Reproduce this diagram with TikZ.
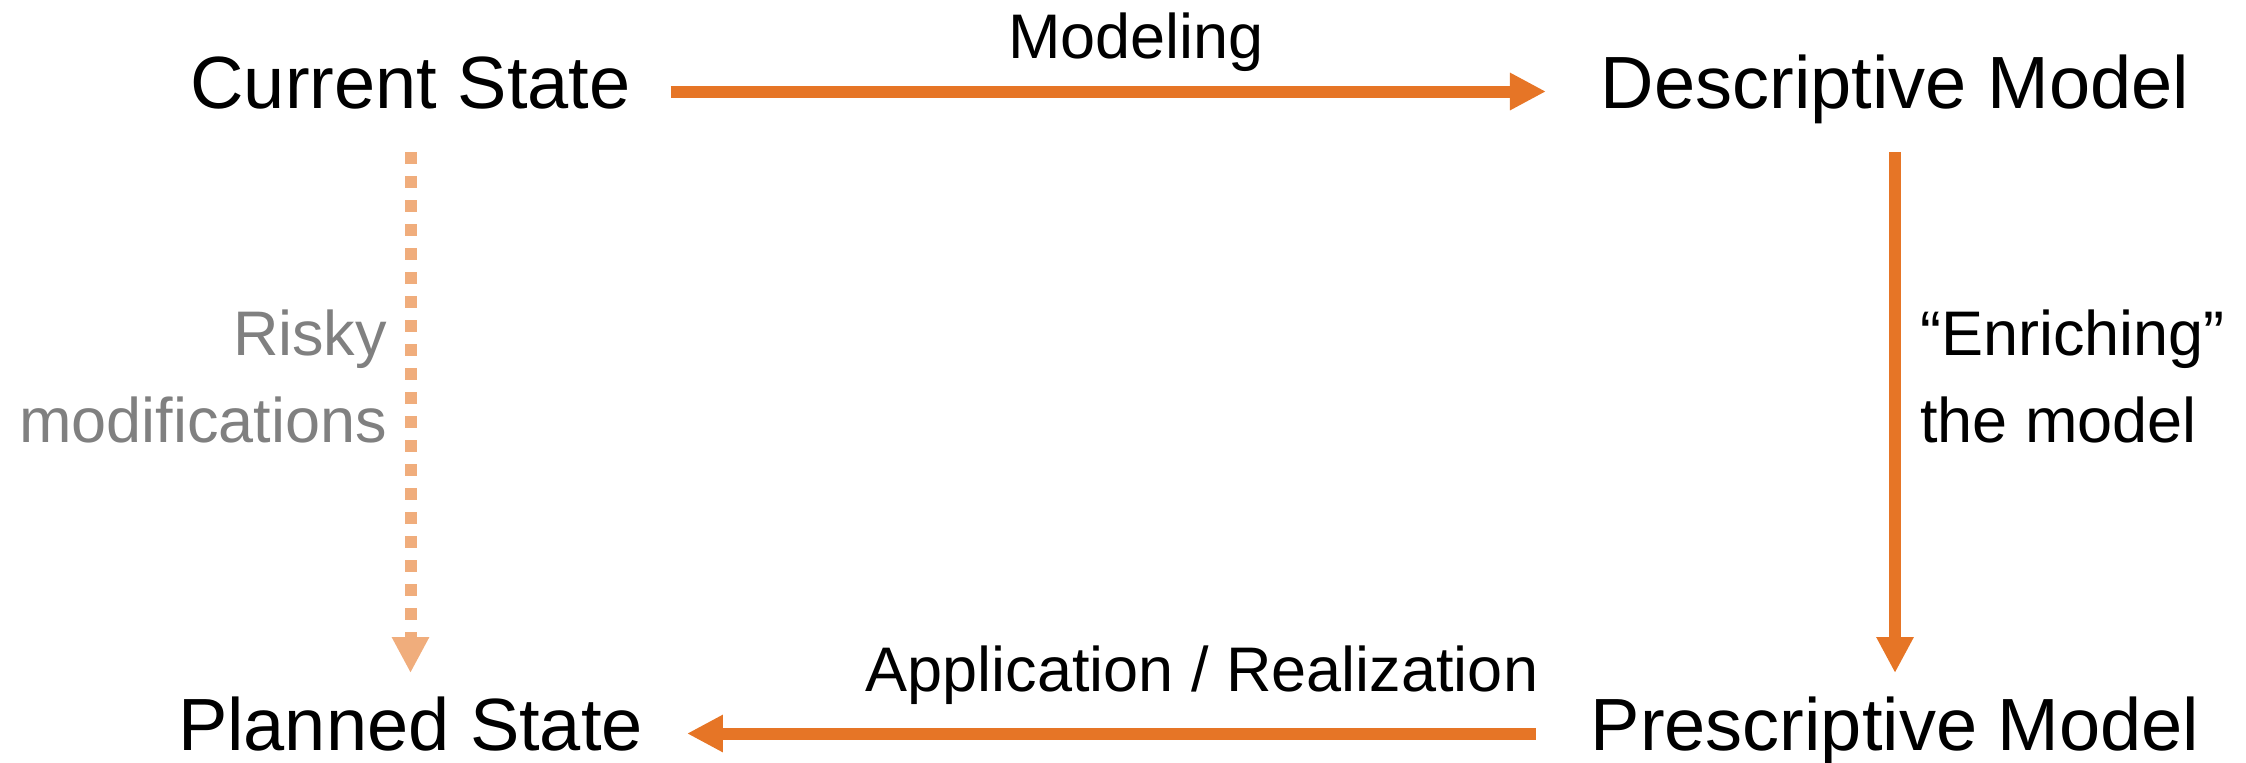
\documentclass[tikz,border=0pt]{standalone}
\usepackage{fontspec}
\setmainfont{Liberation Sans}
\usetikzlibrary{arrows.meta}
\definecolor{mainorange}{RGB}{230,117,38}
\definecolor{lightorange}{RGB}{240,173,124}
\definecolor{labelgray}{RGB}{128,128,128}
\begin{document}
\begin{tikzpicture}[x=0.5pt,y=-0.5pt,
  statebox/.style={inner sep=0pt, outer sep=0pt, text height=26.5pt, text depth=10pt, font=\fontsize{37}{44}\selectfont, anchor=base},
  edgelabel/.style={inner sep=0pt, outer sep=0pt, font=\fontsize{31.5}{43.5}\selectfont},
  flow/.style={draw=mainorange, line width=6pt, -{Triangle[length=18pt,width=17.5pt]}},
  riskyflow/.style={draw=lightorange, line width=6pt, dash pattern=on 6pt off 6pt, -{Triangle[length=18pt,width=17.5pt]}}]
\path[use as bounding box] (0,0) rectangle (2246,762);
\node[statebox] (cs) at (410.5,108) {Current State};
\node[statebox] (dm) at (1895,108) {Descriptive Model};
\node[statebox] (pm) at (1895,750) {Prescriptive Model};
\node[statebox] (ps) at (410.5,750) {Planned State};
\node[edgelabel, anchor=base] (lmod) at (1136,58) {Modeling};
\node[edgelabel, anchor=base] (lapp) at (1202,691) {Application / Realization};
\node[edgelabel, anchor=base west, align=left] (lenr) at (1920,442) {``Enriching''\\the model};
\node[edgelabel, anchor=base east, align=right, text=labelgray] (lrisk) at (387,442) {Risky\\modifications};
\draw[flow, shorten <=20pt, shorten >=27.5pt] (cs.east) -- (dm.west);
\draw[flow, shorten <=12pt, shorten >=12pt] (dm.south) -- (pm.north);
\draw[flow, shorten <=27.5pt, shorten >=22pt] (pm.west) -- (ps.east);
\draw[riskyflow, shorten <=12pt, shorten >=12pt] (cs.south) -- (ps.north);
\end{tikzpicture}
\end{document}
